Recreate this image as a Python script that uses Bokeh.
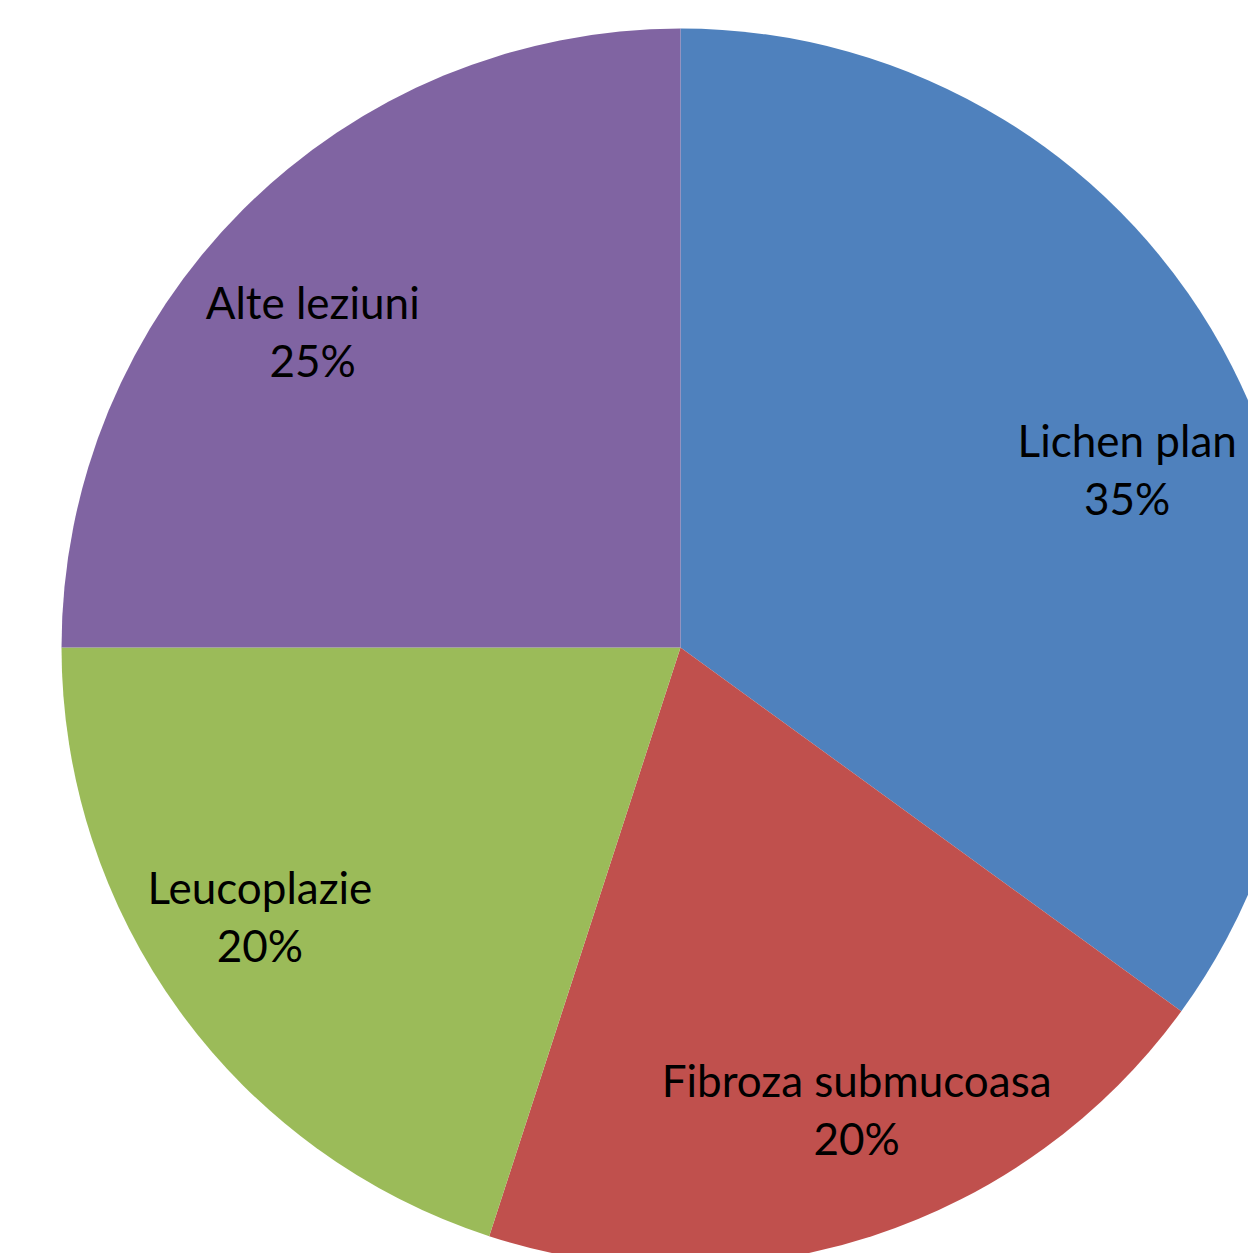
import math
from bokeh.plotting import figure
from bokeh.models import Range1d, ColumnDataSource
from bokeh.core.properties import value
from bokeh.embed import file_html
from bokeh.resources import INLINE

categories = ["Lichen plan", "Fibroza submucoasa", "Leucoplazie", "Alte leziuni"]
percents = [35, 20, 20, 25]
colors = ["#4F81BD", "#C0504D", "#9BBB59", "#8064A2"]

# layout: pie geometry and Excel-style "best fit" label nudges (screen px)
W, H = 1248, 1253
cx, cy = 680, H - 647
R = 619
label_frac = 0.79
label_nudge = [(11, 44), (25, -4), (-25, -19), (-22, 29)]

total = sum(percents)
starts, ends, lx, ly, pct_lbl = [], [], [], [], []
cum = 0.0
for v, (ndx, ndy) in zip(percents, label_nudge):
    a0 = math.pi / 2 - 2 * math.pi * cum / total
    cum += v
    a1 = math.pi / 2 - 2 * math.pi * cum / total
    starts.append(a0)
    ends.append(a1)
    mid = (a0 + a1) / 2
    lx.append(cx + label_frac * R * math.cos(mid) + ndx)
    ly.append(cy + label_frac * R * math.sin(mid) - ndy)
    pct_lbl.append(f"{v}%")

src = ColumnDataSource(dict(start=starts, end=ends, color=colors,
                            lx=lx, ly=ly, name=categories, pct=pct_lbl))

p = figure(width=W, height=H, output_backend="svg", toolbar_location=None,
           x_range=Range1d(0, W), y_range=Range1d(0, H), min_border=0)
p.axis.visible = False
p.grid.visible = False
p.outline_line_color = None
p.background_fill_color = "white"
p.border_fill_color = "white"

p.wedge(x=cx, y=cy, radius=R, start_angle="start", end_angle="end",
        direction="clock", fill_color="color", line_color=None, source=src)

p.text(x="lx", y="ly", text="name", source=src, y_offset=-29,
       text_align="center", text_baseline="middle",
       text_font=value("Lato"), text_font_size="44px", text_color="black")
p.text(x="lx", y="ly", text="pct", source=src, y_offset=29,
       text_align="center", text_baseline="middle",
       text_font=value("Lato"), text_font_size="44px", text_color="black")

open("out.html", "w").write(file_html(p, INLINE))
